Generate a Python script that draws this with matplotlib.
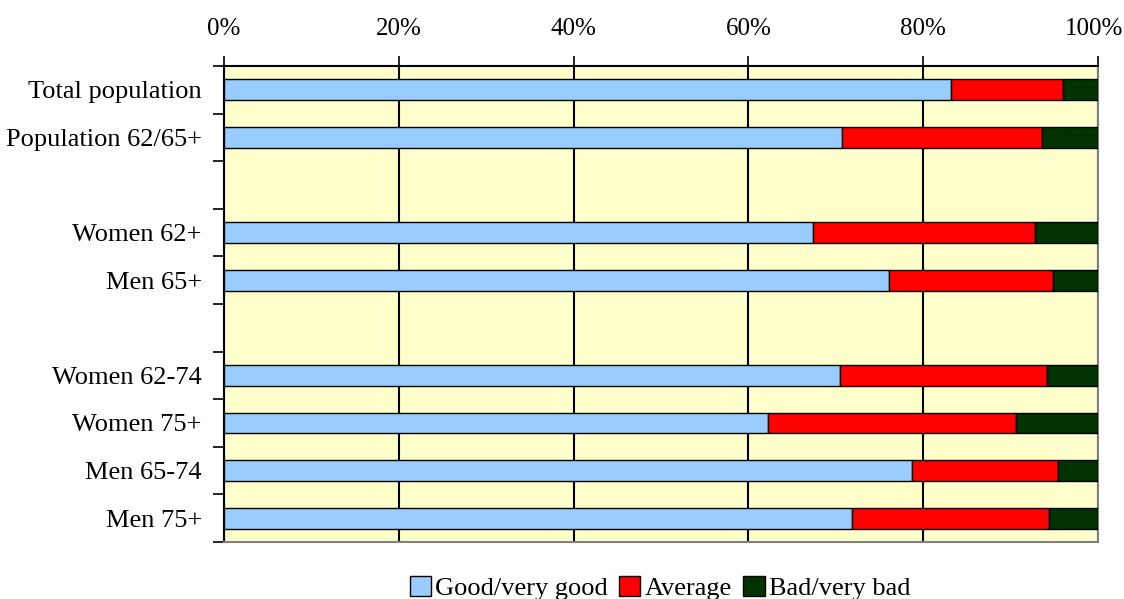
import numpy as np
import matplotlib
matplotlib.use("Agg")
import matplotlib.pyplot as plt
import matplotlib.transforms as mtransforms
from matplotlib.patches import Patch

# rows, top to bottom ("" = empty spacer row)
categories = ["Total population", "Population 62/65+", "",
              "Women 62+", "Men 65+", "",
              "Women 62-74", "Women 75+", "Men 65-74", "Men 75+"]
good = [83.2, 70.7, 0, 67.4, 76.1, 0, 70.5, 62.2, 78.7, 71.9]
average = [12.8, 22.9, 0, 25.4, 18.8, 0, 23.7, 28.4, 16.7, 22.5]
bad = [4.0, 6.4, 0, 7.2, 5.1, 0, 5.8, 9.4, 4.6, 5.6]

series_names = ["Good/very good", "Average", "Bad/very bad"]
colors = ["#99CCFF", "#FF0000", "#003300"]

plt.rcParams["font.family"] = ["Liberation Serif", "DejaVu Serif"]

fig = plt.figure(figsize=(11.24, 5.99), dpi=100)
ax = fig.add_axes([0.1993, 0.0952, 0.7776, 0.7946])
ax.set_facecolor("#FFFFCC")

y = np.arange(len(categories))
keep = [i for i, c in enumerate(categories) if c]
g = np.array(good)[keep]
a = np.array(average)[keep]
b = np.array(bad)[keep]
yk = y[keep]

h = 0.44
ax.barh(yk, g, height=h, color=colors[0], edgecolor="black", linewidth=1, zorder=3)
ax.barh(yk, a, left=g, height=h, color=colors[1], edgecolor="black", linewidth=1, zorder=3)
ax.barh(yk, b, left=g + a, height=h, color=colors[2], edgecolor="black", linewidth=1, zorder=3)

ax.set_xlim(0, 100)
ax.set_ylim(len(categories) - 0.5, -0.5)

ax.xaxis.tick_top()
ax.set_xticks(np.arange(0, 101, 20))
ax.set_xticklabels([f"{v}%" for v in range(0, 101, 20)], fontsize=18)
ax.tick_params(axis="x", direction="out", length=7, width=1.2, pad=12, colors="black")
ax.xaxis.grid(True, color="black", linewidth=1.5, zorder=1)

# nudge the 100% label left so it stays inside the figure
last = ax.get_xticklabels()[-1]
last.set_transform(last.get_transform() +
                   mtransforms.ScaledTranslation(-4 / 100, 0, fig.dpi_scale_trans))

ax.set_yticks(yk)
ax.set_yticklabels([categories[i] for i in keep], fontsize=19)
ax.tick_params(axis="y", which="major", length=0, pad=16)
ax.set_yticks(np.arange(-0.5, len(categories), 1.0), minor=True)
ax.tick_params(axis="y", which="minor", length=8, width=1.2, direction="out")

for side in ["top", "left"]:
    ax.spines[side].set_color("black")
    ax.spines[side].set_linewidth(1.5)
for side in ["right", "bottom"]:
    ax.spines[side].set_color("#808080")
    ax.spines[side].set_linewidth(1.5)

handles = [Patch(facecolor=c, edgecolor="black", linewidth=1) for c in colors]
fig.legend(handles, series_names, loc="center", bbox_to_anchor=(0.587, 0.018),
           ncol=3, frameon=False, fontsize=19, handlelength=0.8, handleheight=0.8,
           handletextpad=0.15, columnspacing=0.45, borderpad=0)

fig.savefig("out.png", dpi=100)
